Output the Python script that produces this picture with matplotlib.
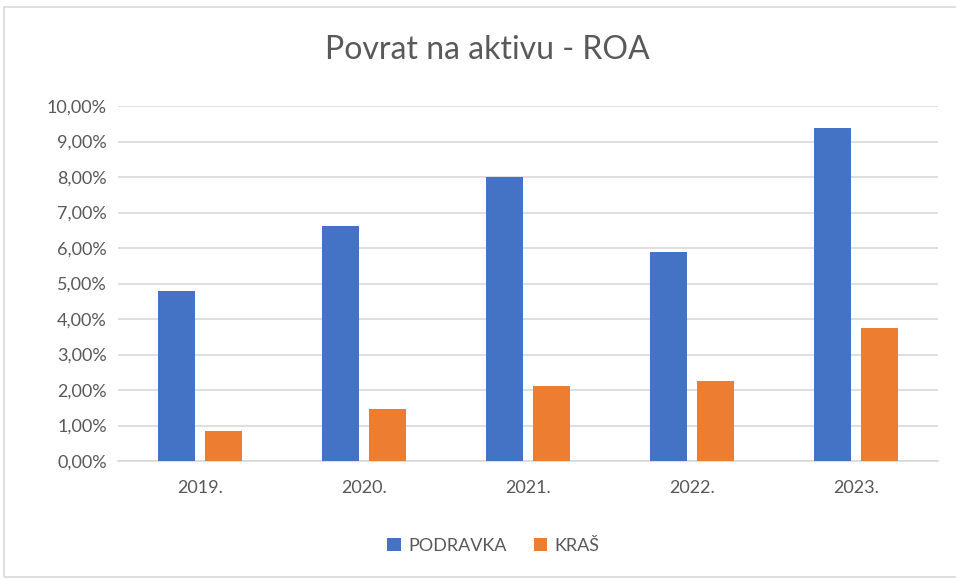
import numpy as np
import matplotlib
matplotlib.use("Agg")
import matplotlib.pyplot as plt
from matplotlib.patches import Rectangle
from matplotlib.ticker import FuncFormatter

years = ["2019.", "2020.", "2021.", "2022.", "2023."]
podravka = [4.80, 6.61, 7.99, 5.90, 9.39]
kras = [0.85, 1.47, 2.11, 2.25, 3.76]

blue = "#4472C4"
orange = "#ED7D31"
text_col = "#595959"

plt.rcParams["font.family"] = ["Lato", "DejaVu Sans"]

fig = plt.figure(figsize=(9.56, 5.79), dpi=100)
ax = fig.add_axes([0.1234, 0.2038, 0.8576, 0.6131])

x = np.arange(len(years))
w = 0.225
ax.bar(x - 0.143, podravka, w, color=blue, label="PODRAVKA", zorder=3)
ax.bar(x + 0.143, kras, w, color=orange, label="KRAŠ", zorder=3)

ax.set_xlim(-0.5, len(years) - 0.5)
ax.set_ylim(0, 10)
ax.set_yticks(np.arange(0, 11, 1))
ax.yaxis.set_major_formatter(FuncFormatter(lambda v, p: f"{v:.2f}%".replace(".", ",")))
ax.set_xticks(x)
ax.set_xticklabels(years)
ax.grid(axis="y", color="#d9d9d9", linewidth=1.2, zorder=0)
ax.tick_params(length=0, labelsize=13, colors=text_col, pad=8)
ax.tick_params(axis="x", pad=14)
for s in ["top", "right", "left"]:
    ax.spines[s].set_visible(False)
ax.spines["bottom"].set_color("#d9d9d9")
ax.spines["bottom"].set_linewidth(1.2)

# title (Excel style, light weight)
fig.text(0.51, 0.913, "Povrat na aktivu - ROA", ha="center", va="center",
         fontsize=23, color=text_col)

leg = fig.legend(loc="center", bbox_to_anchor=(0.516, 0.057), ncol=2, frameon=False,
                 fontsize=13, handlelength=0.75, handleheight=0.75, columnspacing=1.5,
                 handletextpad=0.4)
for t in leg.get_texts():
    t.set_color(text_col)

fig.patches.append(Rectangle((4 / 956, 2 / 579), 1.2, 1 - 9 / 579, transform=fig.transFigure,
                             fill=False, edgecolor="#d9d9d9", linewidth=1.2))

fig.savefig("out.png", dpi=100)
